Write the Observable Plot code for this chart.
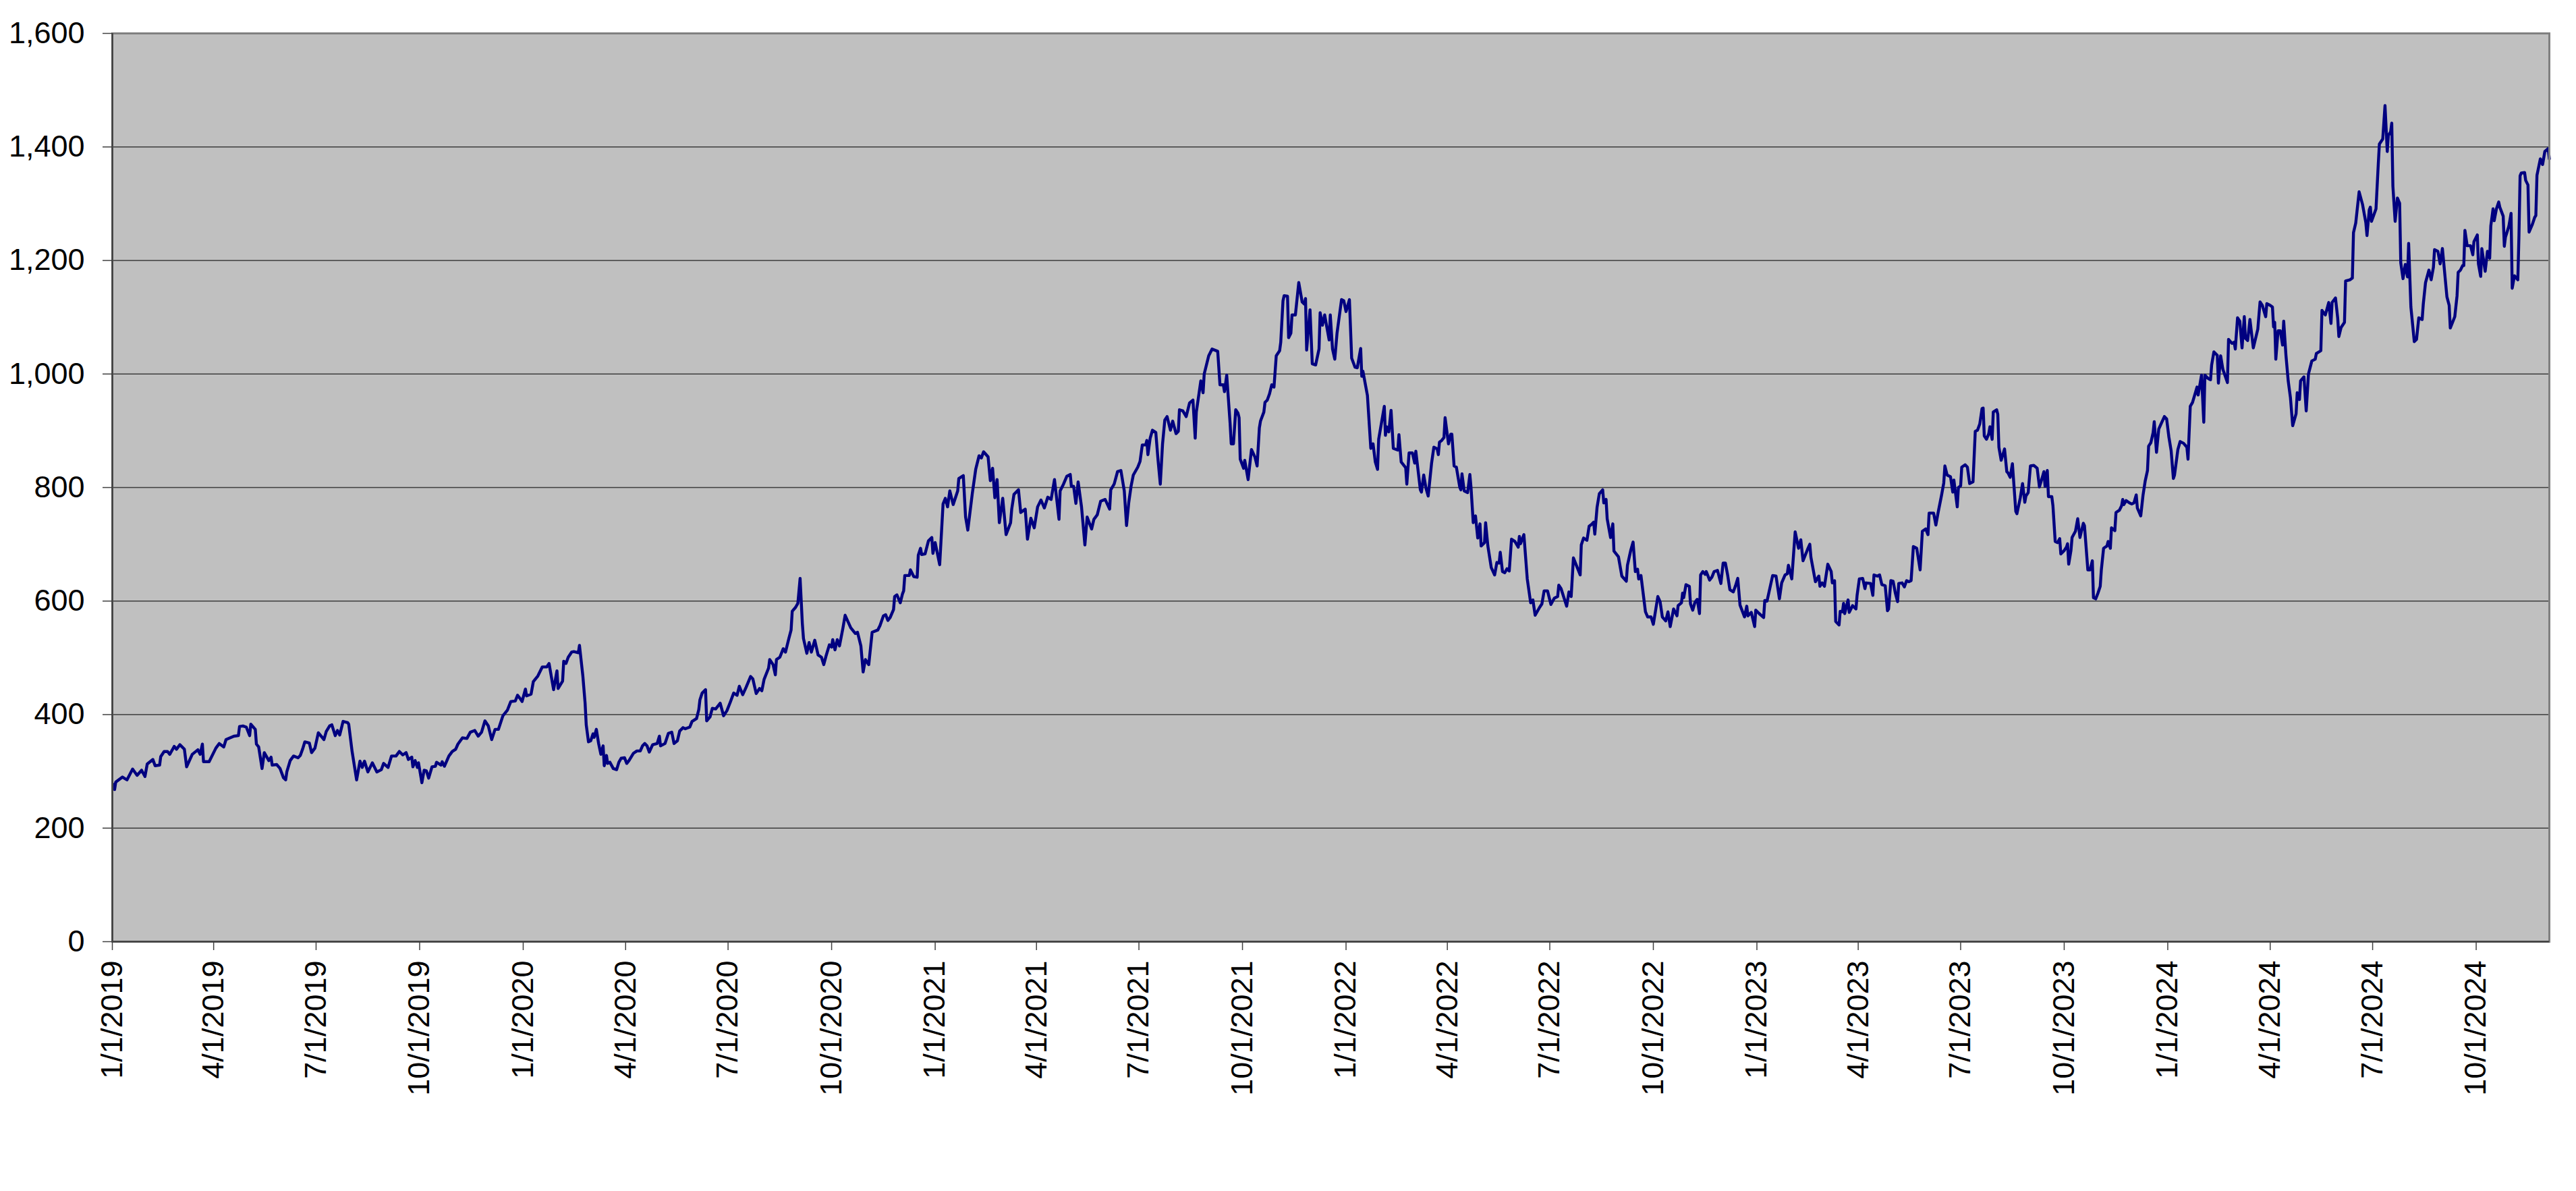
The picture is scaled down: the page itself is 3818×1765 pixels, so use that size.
<!DOCTYPE html>
<html>
<head>
<meta charset="utf-8">
<script src="https://cdn.jsdelivr.net/npm/d3@7"></script>
<script src="https://cdn.jsdelivr.net/npm/@observablehq/plot@0.6"></script>
<style>
  html, body { margin: 0; padding: 0; background: #ffffff; }
  #chart { width: 3818px; height: 1765px; }
</style>
</head>
<body>
<div id="chart"></div>
<script>
// Day offsets from 1/1/2019 and values
const startDateLabel = "1/1/2019";
const lastDayOffset = 2165;

const points2019 = [[1,277],[2,268],[3,281],[9,290],[13,285],[18,304],[22,293],[26,302],[29,291],[31,313],[36,321],[38,310],[42,311],[43,326],[46,335],[49,335],[51,330],[55,344],[57,339],[60,347],[64,339],[66,308],[71,330],[76,338],[78,330],[80,348],[81,317],[86,317],[92,341],[95,349],[99,343],[101,356],[108,362],[112,363],[113,379],[116,380],[119,378],[122,363],[123,383],[127,374],[128,348],[130,343],[133,305],[135,333],[139,319],[141,325],[142,311],[146,312],[149,305],[152,289],[154,285],[155,299],[158,319],[161,327],[165,324],[167,328],[169,339],[171,352],[175,350],[177,333],[180,341],[183,368],[188,356],[190,370],[193,380],[195,382],[198,363],[200,372],[202,364],[205,388],[209,386],[210,383],[213,335],[217,285],[220,318],[222,307],[224,318],[227,299],[230,311],[231,315],[235,299],[239,303],[241,314],[245,307],[248,327],[252,327],[255,335],[258,329],[261,333],[263,321],[266,325],[267,308],[269,319],[271,307],[272,315],[275,280],[277,302],[279,301],[281,288],[284,308],[287,309],[288,316],[292,311],[293,317],[295,309],[299,327],[302,335],[305,339],[307,348],[311,359],[315,358],[318,369],[322,372],[325,362],[328,369],[331,389],[334,380],[337,356],[340,374],[343,374],[347,398],[351,408],[354,423],[358,424],[360,434],[362,429],[364,423]];

const points2020 = [[367,445],[368,433],[372,436],[374,458],[378,468],[382,484],[386,484],[388,490],[392,444],[395,477],[396,446],[400,459],[401,494],[403,490],[405,501],[408,510],[410,511],[414,509],[415,522],[418,468],[420,420],[421,382],[423,352],[425,354],[427,366],[428,360],[430,374],[432,349],[434,330],[436,345],[437,310],[439,328],[440,314],[442,316],[445,305],[448,303],[450,316],[452,323],[455,324],[457,314],[459,319],[463,332],[466,336],[469,336],[471,345],[473,349],[475,345],[477,334],[480,347],[484,349],[486,362],[487,345],[491,349],[494,367],[497,369],[499,349],[502,354],[504,371],[507,377],[509,375],[513,378],[515,388],[519,393],[521,409],[522,426],[524,438],[527,444],[528,389],[531,396],[533,411],[536,410],[540,420],[543,398],[546,407],[549,422],[552,438],[555,434],[557,450],[560,435],[563,448],[567,467],[569,463],[572,437],[575,446],[577,442],[579,462],[583,482],[584,497],[587,488],[589,470],[590,497],[593,501],[596,516],[598,510],[601,534],[603,549],[604,582],[607,589],[609,596],[611,640],[613,560],[614,534],[617,508],[619,527],[621,510],[624,531],[627,505],[630,501],[632,488],[634,503],[637,523],[639,519],[640,532],[642,514],[644,532],[646,521],[649,552],[651,575],[656,553],[660,543],[662,545],[665,521],[667,475],[669,497],[672,488],[675,545],[680,549],[682,557],[685,574],[687,576],[689,566],[691,571],[694,585],[695,608],[697,611],[700,597],[702,613],[703,618],[704,645],[708,645],[709,655],[712,643],[715,642],[716,681],[718,693],[719,682],[722,683],[725,706],[728,712],[729,684]];

const points2021 = [[731,703],[735,664],[738,771],[740,781],[742,766],[744,794],[747,770],[751,794],[752,816],[756,821],[758,748],[760,725],[764,790],[767,832],[770,856],[772,852],[774,863],[778,854],[780,812],[782,834],[784,782],[786,814],[788,738],[791,781],[794,717],[798,738],[799,762],[801,788],[805,796],[807,756],[811,762],[813,709],[816,746],[819,729],[822,766],[825,778],[828,764],[831,783],[834,779],[837,814],[841,744],[842,794],[845,806],[848,820],[851,823],[852,802],[854,802],[856,772],[858,810],[861,766],[864,699],[866,748],[870,727],[872,744],[875,752],[878,776],[882,779],[886,762],[887,796],[890,806],[893,828],[896,830],[899,794],[901,733],[903,774],[905,802],[907,822],[911,836],[913,846],[915,875],[918,875],[919,883],[920,858],[922,887],[924,901],[927,897],[929,848],[931,806],[933,877],[935,919],[937,925],[940,901],[942,917],[945,895],[947,899],[948,937],[951,935],[954,925],[957,949],[960,954],[962,887],[963,933],[967,988],[969,967],[970,1000],[974,1032],[977,1044],[982,1040],[984,981],[987,981],[988,969],[990,998],[993,913],[994,877],[996,877],[998,937],[1000,931],[1001,923],[1002,850],[1005,834],[1006,848],[1009,814],[1012,867],[1015,854],[1017,838],[1019,905],[1020,917],[1023,933],[1024,950],[1026,954],[1028,965],[1030,981],[1032,977],[1034,1032],[1037,1041],[1038,1056],[1040,1129],[1041,1138],[1044,1137],[1045,1064],[1047,1072],[1048,1104],[1051,1104],[1052,1123],[1054,1161],[1057,1127],[1059,1123],[1060,1133],[1061,1042],[1064,1113],[1066,1018],[1069,1016],[1072,1044],[1073,1108],[1075,1086],[1077,1104],[1081,1060],[1082,1104],[1084,1044],[1086,1026],[1088,1072],[1092,1131],[1094,1129]];

const points2022 = [[1096,1110],[1099,1131],[1101,1028],[1104,1012],[1106,1011],[1109,1045],[1110,996],[1111,1005],[1115,962],[1118,869],[1120,877],[1122,845],[1124,832],[1125,885],[1130,943],[1131,892],[1132,907],[1134,898],[1136,936],[1138,869],[1142,866],[1143,893],[1145,845],[1149,835],[1150,806],[1152,861],[1155,861],[1157,843],[1158,864],[1162,796],[1163,792],[1165,822],[1167,799],[1169,785],[1172,843],[1174,871],[1177,868],[1178,858],[1179,880],[1181,883],[1183,888],[1184,923],[1187,877],[1189,894],[1190,894],[1192,838],[1194,836],[1197,801],[1198,796],[1199,824],[1201,794],[1204,791],[1206,823],[1207,801],[1209,738],[1211,750],[1213,711],[1215,736],[1216,697],[1219,703],[1220,738],[1222,697],[1225,659],[1228,646],[1230,668],[1232,667],[1233,686],[1235,652],[1237,650],[1239,657],[1241,653],[1243,709],[1246,705],[1249,695],[1250,714],[1251,701],[1254,717],[1257,639],[1260,597],[1262,602],[1264,575],[1268,589],[1270,595],[1272,618],[1275,618],[1278,594],[1281,605],[1284,608],[1285,628],[1287,622],[1292,591],[1294,616],[1296,608],[1298,676],[1301,661],[1304,646],[1305,699],[1307,711],[1310,707],[1312,732],[1314,735],[1316,739],[1317,718],[1319,765],[1321,789],[1324,796],[1325,773],[1327,779],[1328,745],[1331,712],[1333,736],[1334,688],[1338,678],[1341,644],[1345,635],[1346,663],[1349,690],[1351,704],[1353,652],[1355,656],[1356,639],[1358,645],[1362,581],[1364,572],[1367,572],[1369,559],[1373,608],[1375,599],[1377,572],[1380,565],[1382,581],[1384,555],[1387,586],[1390,574],[1391,592],[1394,597],[1395,614],[1396,606],[1398,629],[1401,626],[1402,595],[1404,584],[1406,598],[1408,603],[1410,578],[1411,646],[1413,652],[1415,647],[1416,652],[1419,637],[1421,642],[1423,652],[1426,654],[1429,631],[1431,667],[1433,667],[1435,646],[1437,620],[1440,616],[1442,627],[1444,640],[1446,593],[1450,572],[1452,591],[1453,574],[1456,580],[1459,555],[1460,584]];

const points2023 = [[1463,578],[1467,571],[1468,601],[1470,600],[1475,645],[1478,644],[1481,604],[1483,632],[1486,646],[1488,648],[1489,663],[1492,639],[1495,722],[1498,693],[1500,708],[1502,671],[1506,691],[1508,700],[1509,677],[1513,634],[1516,644],[1517,626],[1519,632],[1521,626],[1524,665],[1527,652],[1528,632],[1530,636],[1531,564],[1534,558],[1535,582],[1537,581],[1538,596],[1539,578],[1542,602],[1543,580],[1546,592],[1549,586],[1550,610],[1552,639],[1555,640],[1557,622],[1558,632],[1562,631],[1564,610],[1565,646],[1568,644],[1570,646],[1572,629],[1575,627],[1577,583],[1578,586],[1580,636],[1582,635],[1584,614],[1586,599],[1587,631],[1590,632],[1592,625],[1594,636],[1596,634],[1598,636],[1600,696],[1603,693],[1606,655],[1608,723],[1611,727],[1613,717],[1614,755],[1618,755],[1620,734],[1622,756],[1625,786],[1627,808],[1628,838],[1630,822],[1633,819],[1635,792],[1636,813],[1639,766],[1640,800],[1642,803],[1643,836],[1646,840],[1648,836],[1650,807],[1653,810],[1655,899],[1657,901],[1659,912],[1661,939],[1662,940],[1663,891],[1665,885],[1667,895],[1668,907],[1670,885],[1671,933],[1674,937],[1675,929],[1676,871],[1678,848],[1681,868],[1683,828],[1684,826],[1686,818],[1688,842],[1691,758],[1692,754],[1695,782],[1697,807],[1699,774],[1700,785],[1702,791],[1704,838],[1707,839],[1710,834],[1712,801],[1714,814],[1716,828],[1717,802],[1719,830],[1720,784],[1723,784],[1724,768],[1726,705],[1728,703],[1730,710],[1731,683],[1734,689],[1736,695],[1737,701],[1738,665],[1740,689],[1741,712],[1744,723],[1746,745],[1748,712],[1751,737],[1752,733],[1755,655],[1757,655],[1759,671],[1760,606],[1762,604],[1764,614],[1766,626],[1767,655],[1769,693],[1772,697],[1773,705],[1775,693],[1776,729],[1779,724],[1780,756],[1783,760],[1785,768],[1786,779],[1787,770],[1789,777],[1792,773],[1794,771],[1796,773],[1798,787],[1799,764],[1802,750],[1804,786],[1806,812],[1808,830],[1809,873],[1811,879],[1813,897],[1814,916],[1816,862],[1818,903],[1820,912],[1823,925],[1825,921]];

const points2024 = [[1827,889],[1829,865],[1831,816],[1832,822],[1835,867],[1837,881],[1840,878],[1843,871],[1844,850],[1846,943],[1848,950],[1851,970],[1852,977],[1853,963],[1856,998],[1858,915],[1859,998],[1862,992],[1864,990],[1865,1016],[1867,1039],[1870,1033],[1871,984],[1873,1032],[1875,1008],[1879,985],[1880,1061],[1883,1054],[1885,1056],[1886,1044],[1888,1099],[1890,1093],[1892,1046],[1894,1101],[1895,1063],[1897,1059],[1899,1096],[1902,1046],[1906,1079],[1908,1127],[1910,1121],[1913,1101],[1914,1124],[1917,1121],[1919,1118],[1920,1083],[1921,1091],[1922,1026],[1924,1076],[1926,1076],[1928,1051],[1929,1093],[1931,1033],[1933,988],[1935,958],[1937,909],[1940,930],[1941,967],[1943,955],[1944,988],[1947,995],[1949,935],[1951,1000],[1954,1023],[1957,1026],[1958,1036],[1962,1041],[1963,1112],[1966,1104],[1969,1126],[1971,1089],[1972,1126],[1975,1134],[1977,1098],[1978,1066],[1980,1082],[1983,1091],[1984,1164],[1988,1166],[1990,1169],[1991,1249],[1993,1266],[1996,1321],[1999,1299],[2002,1266],[2003,1244],[2005,1289],[2006,1294],[2007,1269],[2011,1291],[2013,1369],[2014,1405],[2017,1414],[2019,1473],[2021,1392],[2022,1420],[2024,1427],[2025,1442],[2026,1331],[2028,1269],[2030,1310],[2032,1301],[2033,1196],[2035,1168],[2037,1193],[2039,1171],[2040,1230],[2042,1118],[2045,1057],[2047,1061],[2049,1099],[2052,1096],[2053,1123],[2055,1161],[2058,1183],[2060,1166],[2062,1188],[2063,1219],[2066,1216],[2068,1194],[2070,1221],[2074,1136],[2076,1121],[2077,1081],[2079,1091],[2081,1101],[2083,1138],[2084,1179],[2086,1183],[2088,1191],[2089,1191],[2090,1253],[2092,1226],[2095,1226],[2097,1210],[2098,1233],[2101,1245],[2102,1194],[2104,1172],[2105,1221],[2108,1181],[2110,1216],[2112,1204],[2113,1261],[2115,1291],[2116,1270],[2118,1291],[2120,1303],[2121,1294],[2124,1278],[2125,1225],[2126,1241],[2129,1260],[2131,1283],[2132,1151],[2134,1173],[2137,1166],[2138,1244],[2139,1349],[2140,1354],[2143,1355],[2144,1341],[2146,1333],[2147,1250],[2150,1264],[2152,1276],[2153,1279],[2154,1350],[2157,1379],[2159,1369],[2161,1392],[2164,1397],[2165,1379]];

const xTickLabels = ["1/1/2019","4/1/2019","7/1/2019","10/1/2019","1/1/2020","4/1/2020","7/1/2020","10/1/2020","1/1/2021","4/1/2021","7/1/2021","10/1/2021","1/1/2022","4/1/2022","7/1/2022","10/1/2022","1/1/2023","4/1/2023","7/1/2023","10/1/2023","1/1/2024","4/1/2024","7/1/2024","10/1/2024"];
const yTicks = [0, 200, 400, 600, 800, 1000, 1200, 1400, 1600];

const parseDate = d3.utcParse("%m/%d/%Y");
const start = parseDate(startDateLabel);
const end = d3.utcDay.offset(start, lastDayOffset);
const allPoints = [...points2019, ...points2020, ...points2021, ...points2022, ...points2023, ...points2024];
const data = allPoints.map(([d, v]) => ({date: d3.utcDay.offset(start, d), value: v}));
const xTicks = xTickLabels.map(parseDate);

const fontSize = 45;
const chart = Plot.plot({
  width: 3818,
  height: 1765,
  marginLeft: 166,
  marginRight: 40,
  marginTop: 49,
  marginBottom: 370,
  style: {fontFamily: "'Liberation Sans', Arial, sans-serif", fontSize: fontSize + "px", color: "#000", background: "#ffffff"},
  x: {type: "utc", domain: [start, end]},
  y: {domain: [0, 1600]},
  marks: [
    Plot.frame({fill: "#C0C0C0", stroke: null}),
    Plot.ruleY(yTicks.slice(1, -1), {stroke: "#3c3c3c", strokeWidth: 1.6}),
    Plot.line(data, {x: "date", y: "value", stroke: "#000080", strokeWidth: 4.4, strokeLinejoin: "round"}),
    Plot.frame({stroke: "#808080", strokeWidth: 3}),
    Plot.ruleX([start], {stroke: "#404040", strokeWidth: 2.5}),
    Plot.ruleY([0], {stroke: "#404040", strokeWidth: 2.5}),
    Plot.axisY({ticks: yTicks, tickFormat: d3.format(","), tickSize: 14, tickPadding: 27, fontSize: fontSize, stroke: "#404040", strokeWidth: 1.5, label: null}),
    Plot.axisX({ticks: xTicks, tickFormat: d3.utcFormat("%-m/%-d/%Y"), tickRotate: -90, tickSize: 13, tickPadding: 15, fontSize: fontSize, stroke: "#404040", strokeWidth: 1.5, label: null})
  ]
});
document.getElementById("chart").appendChild(chart);
</script>
</body>
</html>
